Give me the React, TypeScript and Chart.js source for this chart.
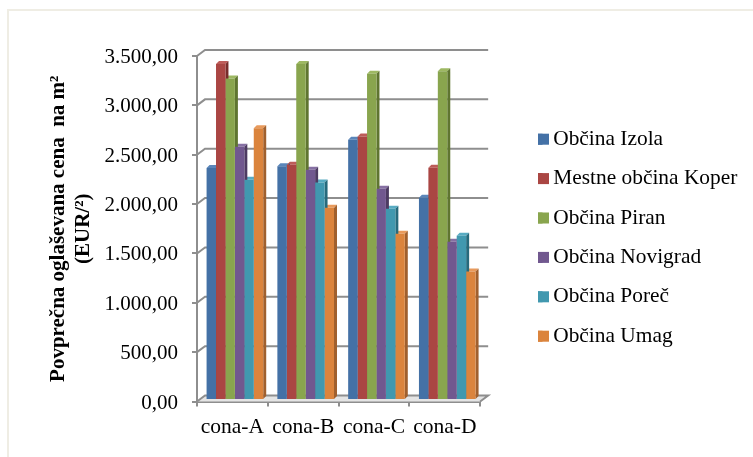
import React, { useEffect, useRef } from "react";
import { Chart, registerables } from "chart.js";

Chart.register(...registerables);

const categories = ["cona-A", "cona-B", "cona-C", "cona-D"];
const izola = [2350, 2367, 2637, 2049];
const koper = [3404, 2383, 2670, 2353];
const piran = [3256, 3404, 3306, 3330];
const novigrad = [2565, 2333, 2140, 1602];
const porec = [2231, 2204, 1937, 1663];
const umag = [2752, 1947, 1683, 1301];
const seriesNames = ["Občina Izola", "Mestne občina Koper", "Občina Piran", "Občina Novigrad", "Občina Poreč", "Občina Umag"];
const seriesValues = [izola, koper, piran, novigrad, porec, umag];
const frontColors = ["#4471A6", "#AA4643", "#89A54E", "#71588F", "#4198AF", "#DB843D"];
const sideColors = ["#2C4D75", "#772C2A", "#5F7530", "#4D3B62", "#276A7C", "#A0602E"];
const topColors = ["#5A86BA", "#BD5C59", "#9DB862", "#8670A3", "#58ABC2", "#E89A5C"];
const yTicks = [0, 500, 1000, 1500, 2000, 2500, 3000, 3500];

const SERIF = "'Liberation Serif'";
const GRID = "#8E8E8E";
const DX = 8;
const DY = 6;
const SHIFT_X = 2.5;
const SHIFT_Y = -1.5;
const BAR_DEPTH = 3;
const LEGEND_X = 538;
const LEGEND_FIRST_Y = 128.5;
const SWATCH_W = 11;
const SWATCH_STUB = 4.5;

const fmt = (v: number) =>
  v.toLocaleString("de-DE", { minimumFractionDigits: 2, maximumFractionDigits: 2 });

const depthPlugin = {
  id: "depth",
  afterUpdate(chart: any) {
    const lg = chart.legend;
    if (!lg || !lg.legendHitBoxes?.length) return;
    const first = lg.legendHitBoxes[0];
    const dx = LEGEND_X - first.left;
    const dy = LEGEND_FIRST_Y - first.top;
    lg.left += dx;
    lg.right += dx;
    lg.top += dy;
    lg.bottom += dy;
    lg.legendHitBoxes.forEach((h: any) => {
      h.left += dx;
      h.top += dy;
    });
  },
  beforeDatasetsDraw(chart: any) {
    const { ctx, chartArea: a, scales } = chart;
    const y = scales.y;
    ctx.save();
    ctx.fillStyle = "#E4E4E4";
    ctx.beginPath();
    ctx.moveTo(a.left, a.bottom);
    ctx.lineTo(a.right, a.bottom);
    ctx.lineTo(a.right + DX, a.bottom - DY);
    ctx.lineTo(a.left + DX, a.bottom - DY);
    ctx.closePath();
    ctx.fill();
    ctx.strokeStyle = GRID;
    ctx.lineWidth = 2;
    yTicks.forEach((t) => {
      const py = y.getPixelForValue(t);
      ctx.beginPath();
      ctx.moveTo(a.left, py);
      ctx.lineTo(a.left + DX, py - DY);
      ctx.lineTo(a.right + DX, py - DY);
      if (t === 0) ctx.lineTo(a.right, py);
      ctx.stroke();
    });
    // bar depth faces, painted left to right; the fronts go on top afterwards
    ctx.translate(SHIFT_X, SHIFT_Y);
    const d = BAR_DEPTH;
    const bars = seriesNames.map((_, i) =>
      chart.getDatasetMeta(i).data.map((b: any) => b.getProps(["x", "y", "base", "width"], true))
    );
    bars.forEach((list: any[], i: number) =>
      list.forEach(({ x, y: top, width }) => {
        const l = x - width / 2;
        const r = x + width / 2;
        ctx.fillStyle = topColors[i];
        ctx.beginPath();
        ctx.moveTo(l, top);
        ctx.lineTo(l + d, top - d);
        ctx.lineTo(r + d, top - d);
        ctx.lineTo(r, top);
        ctx.closePath();
        ctx.fill();
      })
    );
    bars.forEach((list: any[], i: number) =>
      list.forEach(({ x, y: top, base, width }) => {
        const r = x + width / 2;
        ctx.fillStyle = sideColors[i];
        ctx.beginPath();
        ctx.moveTo(r, top);
        ctx.lineTo(r + d, top - d);
        ctx.lineTo(r + d, base - d);
        ctx.lineTo(r, base);
        ctx.closePath();
        ctx.fill();
      })
    );
    ctx.restore();
  },
  beforeDatasetDraw(chart: any) {
    chart.ctx.save();
    chart.ctx.translate(SHIFT_X, SHIFT_Y);
  },
  afterDatasetDraw(chart: any) {
    chart.ctx.restore();
  },
  afterDraw(chart: any) {
    const { ctx, legend } = chart;
    ctx.save();
    legend.legendHitBoxes.forEach((h: any, i: number) => {
      ctx.fillStyle = frontColors[i];
      ctx.fillRect(h.left, h.top + (h.height - 11) / 2, SWATCH_W, 11);
    });
    ctx.restore();
  },
};

export default function App() {
  const ref = useRef<HTMLCanvasElement>(null);
  useEffect(() => {
    const chart = new Chart(ref.current!, {
      type: "bar",
      data: {
        labels: categories,
        datasets: seriesNames.map((name, i) => ({
          label: name,
          data: seriesValues[i],
          backgroundColor: frontColors[i],
          borderWidth: 0,
          clip: false as any,
          barPercentage: 1,
          categoryPercentage: 0.8,
        })),
      },
      options: {
        responsive: false,
        animation: false,
        events: [],
        layout: { padding: { left: 47, top: 56, right: 45.5, bottom: 0 } },
        plugins: {
          tooltip: { enabled: false },
          legend: {
            position: "right",
            align: "center",
            maxWidth: 300,
            labels: {
              color: "#000",
              font: { family: SERIF, size: 21.4 },
              boxWidth: SWATCH_STUB,
              boxHeight: 11,
              padding: 18,
            },
          },
        },
        scales: {
          x: {
            offset: true,
            afterFit(s: any) { s.height = 55.5; },
            grid: { offset: true, drawOnChartArea: false, color: GRID, lineWidth: 2, tickLength: 5 },
            border: { color: GRID, width: 2 },
            ticks: { color: "#000", font: { family: SERIF, size: 21.5 }, padding: 8, maxRotation: 0, autoSkip: false },
          },
          y: {
            min: 0,
            max: 3500,
            afterFit(s: any) { s.width = 150; },
            grid: { drawOnChartArea: false, color: GRID, lineWidth: 2, tickLength: 5 },
            border: { color: GRID, width: 2 },
            ticks: { stepSize: 500, color: "#000", font: { family: SERIF, size: 21 }, padding: 14, labelOffset: 1.5, callback: (v: any) => fmt(Number(v)) },
            title: {
              display: true,
              text: ["Povprečna oglaševana cena  na m²", "(EUR/²)"],
              color: "#000",
              font: { family: SERIF, size: 21, weight: "bold", lineHeight: 1.15 },
              padding: 0,
            },
          },
        },
      },
      plugins: [depthPlugin],
    } as any);
    return () => chart.destroy();
  }, []);
  return (
    <div style={{ position: "absolute", left: 0, top: 0, width: 753, height: 457, background: "#fff" }}>
      <div style={{ position: "absolute", left: 7, top: 9, right: 0, bottom: 0, borderLeft: "2px solid #EFEDE4", borderTop: "2px solid #EFEDE4" }} />
      <canvas ref={ref} width={753} height={457} style={{ position: "absolute", left: 0, top: 0, display: "block" }} />
    </div>
  );
}
